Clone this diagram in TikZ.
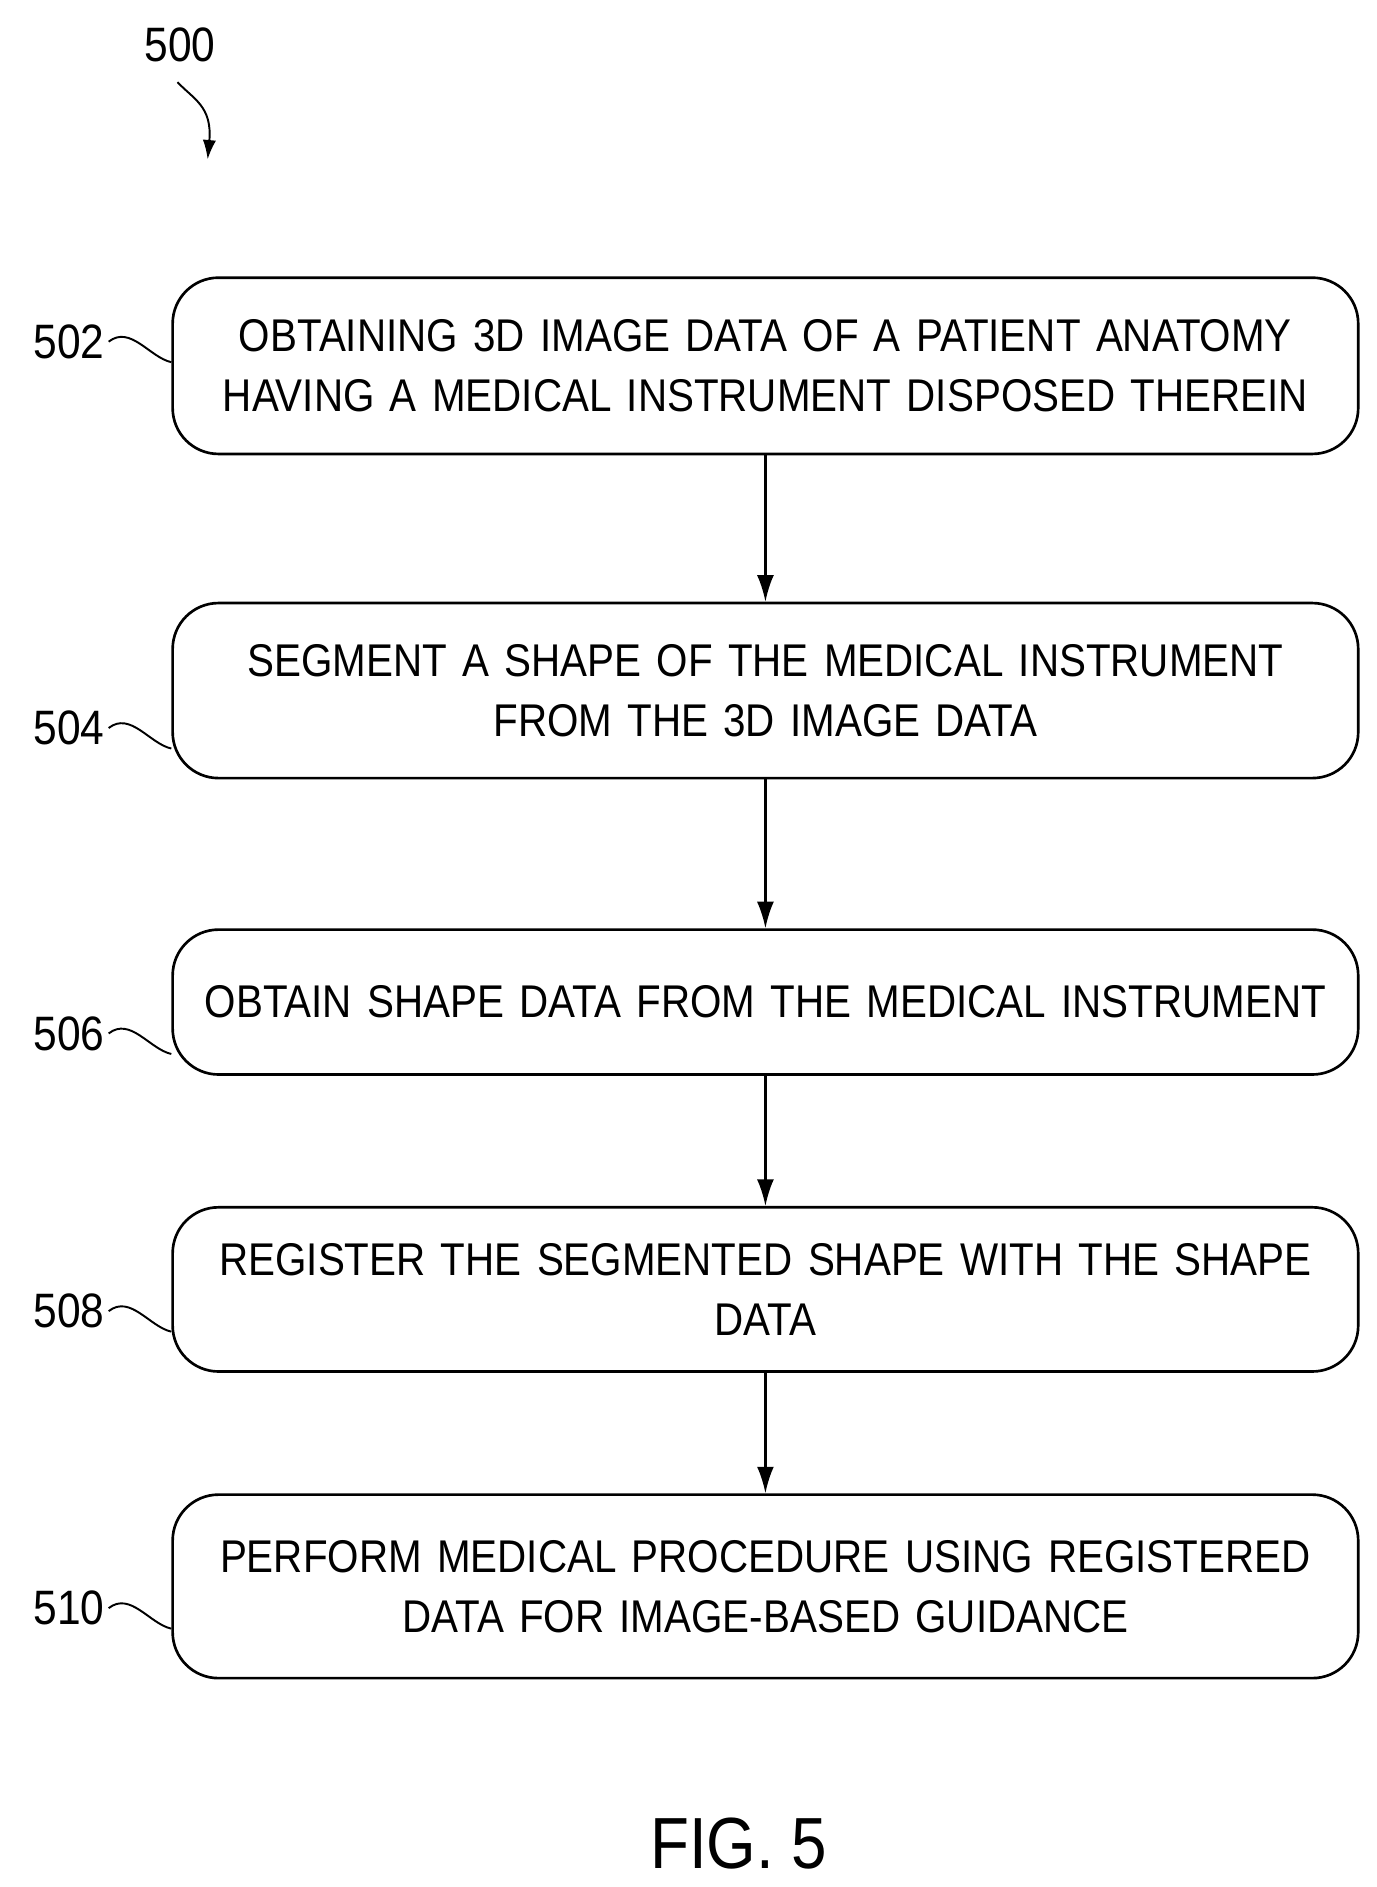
\documentclass[tikz,border=0pt]{standalone}
\usepackage{fontspec}
\setmainfont{Liberation Sans}[FakeStretch=0.88]
\usetikzlibrary{arrows.meta}
\begin{document}
\begin{tikzpicture}[x=1pt,y=-1pt,
 box/.style={draw,line width=2.2pt,rounded corners=38pt,minimum width=982pt,text width=960pt,align=center,font=\fontsize{38}{50}\selectfont,inner sep=0pt},
 lab/.style={font=\fontsize{40}{48}\selectfont,anchor=east},
 arr/.style={line width=2pt,-{Latex[length=22pt,width=14pt]}},
 sq/.style={line width=1.6pt}]
\useasboundingbox (0,0) rectangle (1140,1563);
\node[box,minimum height=146pt] (b502) at (634,303) {OBTAINING 3D IMAGE DATA OF A PATIENT ANATOMY\\HAVING A MEDICAL INSTRUMENT DISPOSED THEREIN};
\node[box,minimum height=145pt] (b504) at (634,572) {SEGMENT A SHAPE OF THE MEDICAL INSTRUMENT\\FROM THE 3D IMAGE DATA};
\node[box,minimum height=120pt] (b506) at (634,830) {OBTAIN SHAPE DATA FROM THE MEDICAL INSTRUMENT};
\node[box,minimum height=136pt] (b508) at (634,1068) {REGISTER THE SEGMENTED SHAPE WITH THE SHAPE\\DATA};
\node[box,minimum height=152pt] (b510) at (634,1314) {PERFORM MEDICAL PROCEDURE USING REGISTERED\\DATA FOR IMAGE-BASED GUIDANCE};
\draw[arr] (b502) -- (b504);
\draw[arr] (b504) -- (b506);
\draw[arr] (b506) -- (b508);
\draw[arr] (b508) -- (b510);
\foreach \n/\y in {502/283,504/603,506/856,508/1086,510/1332}{
 \node[lab] (l\n) at (90,\y) {\n};
 \draw[sq] (l\n.east) .. controls +(18,-14) and +(-18,-4) .. (b\n.west|-0,\y+17);
}
\node[font=\fontsize{40}{48}\selectfont] (l500) at (149,37) {500};
\coordinate (t500) at (172,132);
\draw[sq,-{Latex[length=16pt,width=11pt]}] (147,68) .. controls (160,82) and (176,88) .. (t500);
\node[font=\fontsize{60}{70}\selectfont] (fig) at (612,1527) {FIG. 5};
\end{tikzpicture}
\end{document}
